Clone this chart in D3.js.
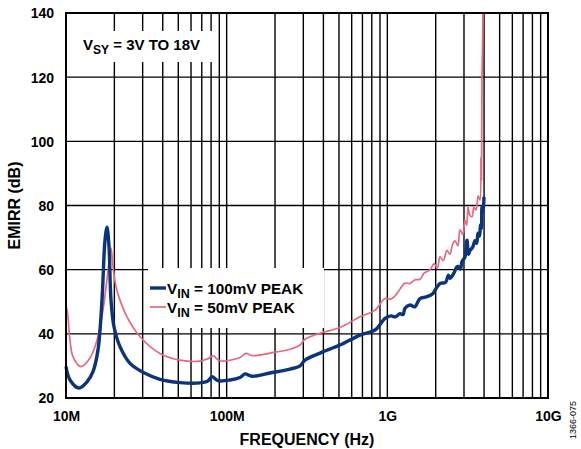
<!DOCTYPE html>
<html>
<head>
<meta charset="utf-8">
<script src="https://cdn.jsdelivr.net/npm/d3@7"></script>
<style>
  body { margin: 0; background: #fff; }
  text { font-family: "Liberation Sans", Arial, sans-serif; }
</style>
</head>
<body>
<div id="chart"></div>
<script>
// frequency in MHz, EMIRR in dB
var freq100 = [10, 10.59, 12.05, 13.51, 14.72, 15.82, 16.75, 17.49, 18.0, 18.52, 19.06, 19.9, 21.68, 25.02, 31.02, 38.46, 51.23, 68.23, 76, 81.05, 88.3, 104.9, 121, 130.1, 143.8, 186.1, 247.9, 286.1, 307.3, 381, 507.6, 675.9, 837.9, 967, 1050, 1120, 1199, 1252, 1288, 1384, 1480, 1597, 1750, 1924, 2020, 2127, 2300, 2400, 2455, 2600, 2700, 2753, 2850, 2916, 3044, 3132, 3200, 3269, 3400, 3512, 3600, 3667, 3750, 3800, 3850, 3883, 3940, 3996];
var emirr100 = [29.8, 25.6, 23.1, 25.0, 28.2, 35, 50.5, 69.2, 73.2, 67.2, 50.5, 42.2, 36, 30.8, 27.7, 25.8, 24.8, 24.7, 25.2, 26.6, 25.4, 25.6, 26.4, 27.5, 26.8, 27.8, 29.0, 30.0, 31.8, 34.0, 36.5, 39.6, 41.2, 44.8, 45.6, 45.3, 46.3, 46.0, 48, 49, 48.4, 51, 51.5, 52.6, 54.3, 55.7, 56, 58.3, 57.3, 59, 60.8, 61, 60.2, 62.5, 64, 69.2, 64.8, 66, 67, 69, 68.2, 71.4, 70.5, 74, 72.8, 79.6, 78, 82.7];

var freq50 = [10, 10.19, 10.59, 11.05, 12.35, 14.11, 15.6, 16.99, 18.3, 19.06, 19.61, 20.48, 21.68, 23.97, 28.88, 38.46, 51.23, 68.23, 76, 82.2, 90.9, 121.1, 131.9, 143.8, 186.1, 247.9, 286.1, 307.3, 381, 507.6, 675.9, 837.9, 967, 1050, 1116, 1200, 1288, 1384, 1480, 1597, 1700, 1843, 1950, 2050, 2127, 2230, 2351, 2450, 2550, 2637, 2750, 2834, 2950, 3044, 3120, 3178, 3260, 3365, 3460, 3563, 3680, 3773, 3828, 3855, 3883, 3910, 3939];
var emirr50 = [48.5, 47, 38, 32.9, 29.8, 32.5, 38, 47.4, 60, 66.7, 61, 54.7, 50.5, 45.3, 39.1, 33.9, 31.8, 31.5, 32.2, 33.1, 31.6, 32.6, 33.9, 33.2, 34, 35.2, 36.5, 38.3, 40.2, 42, 45.3, 47.4, 51, 50.8, 51.8, 54, 55.8, 55.7, 56.8, 57, 59, 59.9, 61.8, 60.6, 64, 62.8, 66, 64.8, 68, 69, 67.4, 72.4, 71, 75.5, 73.8, 79.6, 77, 76.5, 79.5, 78.6, 83, 81.7, 95, 88, 120, 128, 140];

var xTicks = [1e1, 1e2, 1e3, 1e4];
var xTickLabels = ["10M", "100M", "1G", "10G"];
var yTicks = [20, 40, 60, 80, 100, 120, 140];

var margin = {top: 13, right: 33, bottom: 51, left: 66};
var width = 581, height = 449;
var plotW = width - margin.left - margin.right;
var plotH = height - margin.top - margin.bottom;

var x = d3.scaleLog().domain([10, 10000]).range([0, plotW]);
var y = d3.scaleLinear().domain([20, 140]).range([plotH, 0]);

var svg = d3.select("#chart").append("svg")
    .attr("width", width)
    .attr("height", height);

var g = svg.append("g")
    .attr("transform", "translate(" + margin.left + "," + margin.top + ")");

// grid: every minor decade step
var minor = [];
for (var dec = 10; dec < 10000; dec *= 10) {
    for (var k = 2; k <= 9; k++) minor.push(dec * k);
}
minor = minor.concat([100, 1000]);

g.append("g").selectAll("line").data(minor).enter().append("line")
    .attr("x1", d => x(d)).attr("x2", d => x(d))
    .attr("y1", 0).attr("y2", plotH)
    .attr("stroke", "#000").attr("stroke-width", 1.4);

g.append("g").selectAll("line").data(yTicks.slice(1, -1)).enter().append("line")
    .attr("x1", 0).attr("x2", plotW)
    .attr("y1", d => y(d)).attr("y2", d => y(d))
    .attr("stroke", "#000").attr("stroke-width", 1.4);

// white boxes behind annotation + legend
g.append("rect").attr("x", 9).attr("y", 18).attr("width", 140).attr("height", 31).attr("fill", "#fff");
g.append("rect").attr("x", 82).attr("y", 255).attr("width", 176).attr("height", 60).attr("fill", "#fff");

var line = d3.line()
    .curve(d3.curveCatmullRom.alpha(0.5))
    .x(d => x(d[0]))
    .y(d => y(d[1]));

g.append("path")
    .datum(d3.zip(freq50, emirr50))
    .attr("d", line)
    .attr("fill", "none")
    .attr("stroke", "#e8687e")
    .attr("stroke-width", 1.7)
    .attr("stroke-linejoin", "round");

g.append("path")
    .datum(d3.zip(freq100, emirr100))
    .attr("d", line)
    .attr("fill", "none")
    .attr("stroke", "#0b347f")
    .attr("stroke-width", 3.4)
    .attr("stroke-linejoin", "round");

// frame
g.append("rect").attr("x", 0).attr("y", 0).attr("width", plotW).attr("height", plotH)
    .attr("fill", "none").attr("stroke", "#000").attr("stroke-width", 2);

// axes
var xAxis = d3.axisBottom(x).tickValues(xTicks).tickSize(0)
    .tickFormat((d, i) => xTickLabels[i]);
var yAxis = d3.axisLeft(y).tickValues(yTicks).tickSize(0);

var xa = g.append("g")
    .attr("transform", "translate(0," + plotH + ")")
    .call(xAxis);
xa.select(".domain").remove();
xa.selectAll("text").attr("dy", "0").attr("y", 23)
    .style("font-size", "14px").style("font-weight", "bold").attr("fill", "#000");

var ya = g.append("g").call(yAxis);
ya.select(".domain").remove();
ya.selectAll("text").attr("x", -12).attr("dy", "0.35em")
    .style("font-size", "14px").style("font-weight", "bold").attr("fill", "#000");

svg.append("text")
    .attr("x", margin.left + plotW / 2)
    .attr("y", 445)
    .style("text-anchor", "middle")
    .style("font-size", "16px").style("font-weight", "bold")
    .text("FREQUENCY (Hz)");

svg.append("text")
    .attr("transform", "translate(20," + (margin.top + plotH / 2) + ") rotate(-90)")
    .style("text-anchor", "middle")
    .style("font-size", "16px").style("font-weight", "bold")
    .text("EMIRR (dB)");

svg.append("text")
    .attr("transform", "translate(576,420) rotate(-90)")
    .style("text-anchor", "middle")
    .style("font-size", "9px")
    .text("1366-075");

// annotation
var ann = g.append("text")
    .attr("x", 17).attr("y", 37)
    .style("font-size", "15px").style("font-weight", "bold");
ann.append("tspan").text("V");
ann.append("tspan").attr("dy", 4).style("font-size", "12px").text("SY");
ann.append("tspan").attr("dy", -4).text(" = 3V TO 18V");

// legend
var legendData = [
    {label: "100mV PEAK", color: "#0b347f", w: 3.4},
    {label: "50mV PEAK", color: "#e8687e", w: 1.7}
];
var leg = g.selectAll(".legend").data(legendData).enter().append("g")
    .attr("class", "legend")
    .attr("transform", (d, i) => "translate(84," + (275 + i * 19) + ")");
leg.append("line")
    .attr("x1", 0).attr("x2", 16).attr("y1", 0).attr("y2", 0)
    .attr("stroke", d => d.color).attr("stroke-width", d => d.w);
var lt = leg.append("text").attr("x", 17).attr("y", 6)
    .style("font-size", "15.3px").style("font-weight", "bold");
lt.append("tspan").text("V");
lt.append("tspan").attr("dy", 4).style("font-size", "12.5px").text("IN");
lt.append("tspan").attr("dy", -4).text(d => " = " + d.label);
</script>
</body>
</html>
